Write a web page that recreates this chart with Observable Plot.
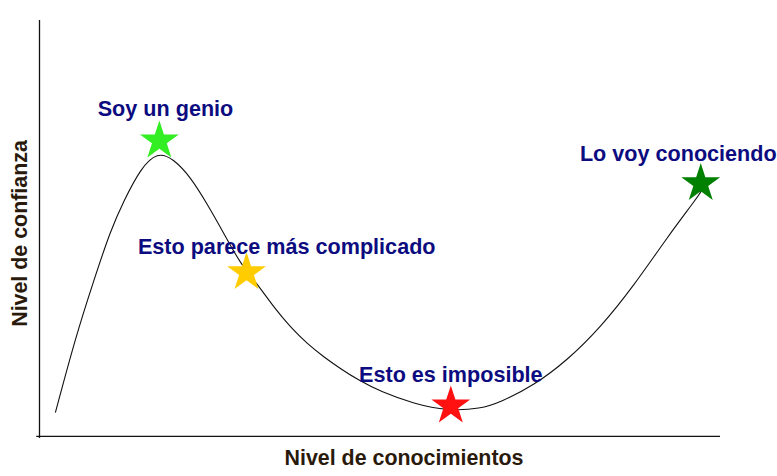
<!DOCTYPE html>
<html>
<head>
<meta charset="utf-8">
<script src="https://cdn.jsdelivr.net/npm/d3@7"></script>
<script src="https://cdn.jsdelivr.net/npm/@observablehq/plot@0.6"></script>
<style>
  html, body { margin: 0; padding: 0; background: #fff; }
</style>
</head>
<body>
<div id="chart"></div>
<script>
// Curve: knowledge (x) vs confidence (y), 0–100 units
const curveX = [2.35, 5.29, 7.97, 10.43, 12.4, 14.8, 17.3, 19.7, 22.2, 24.6, 27.1, 29.5, 31.97, 34.4, 36.86, 39.3, 41.75, 44.2, 46.9, 50.1, 55.0, 59.9, 64.8, 67.7, 72.6, 77.5, 82.4, 87.3, 92.2, 96.8, 97.3];
const curveY = [6.3, 24.2, 37.8, 49.8, 56.9, 64.5, 68.6, 66.9, 62.5, 56.2, 49.0, 41.8, 37.0, 31.4, 26.6, 22.7, 19.5, 16.7, 13.9, 11.2, 8.3, 6.6, 7.1, 8.7, 12.7, 18.7, 26.6, 36.6, 48.2, 58.1, 59.6];

// Milestones
const stageLabels = ["Soy un genio", "Esto parece más complicado", "Esto es imposible", "Lo voy conociendo"];
const starX = [17.6, 30.4, 60.4, 97.1];
const starY = [71.2, 39.7, 7.8, 61.0];
const starColors = ["#33ee22", "#ffcc00", "#ff1111", "#008000"];
const labelX = [18.5, 36.3, 60.4, 93.8];
const labelY = [78.7, 45.9, 15.1, 68.1];

const xTitle = "Nivel de conocimientos";
const yTitle = "Nivel de confianza";

const curve = curveX.map((x, i) => ({x, y: curveY[i]}));
const stages = stageLabels.map((label, i) => ({
  label, sx: starX[i], sy: starY[i], color: starColors[i], lx: labelX[i], ly: labelY[i]
}));

const chart = Plot.plot({
  width: 777,
  height: 476,
  marginLeft: 39,
  marginRight: 57,
  marginTop: 20,
  marginBottom: 38,
  x: {domain: [0, 100], axis: null},
  y: {domain: [0, 100], axis: null},
  style: {background: "#fff"},
  marks: [
    Plot.ruleX([0], {y1: 0, y2: 100, stroke: "#111", strokeWidth: 1.3}),
    Plot.ruleY([0.5], {x1: -0.4, x2: 100, stroke: "#111", strokeWidth: 1.3}),
    Plot.line(curve, {x: "x", y: "y", curve: "basis", stroke: "#111", strokeWidth: 1.1}),
    Plot.dot(stages, {x: "sx", y: "sy", symbol: "star", r: 12.2, fill: "color", stroke: "none"}),
    Plot.text(stages, {x: "lx", y: "ly", text: "label", fill: "#0c0c80",
      fontFamily: "Liberation Sans, Arial, sans-serif", fontWeight: "bold", fontSize: 21.6}),
    Plot.text([xTitle], {frameAnchor: "bottom", textAnchor: "middle", dx: 24, dy: 26, text: d => d, fill: "#2a1a0c",
      fontFamily: "Liberation Sans, sans-serif", fontWeight: "bold", fontSize: 21.4}),
    Plot.text([yTitle], {frameAnchor: "left", textAnchor: "middle", dx: -19, dy: 4, rotate: -90, text: d => d, fill: "#2a1a0c",
      fontFamily: "Liberation Sans, sans-serif", fontWeight: "bold", fontSize: 21.4})
  ]
});
document.getElementById("chart").appendChild(chart);
</script>
</body>
</html>
